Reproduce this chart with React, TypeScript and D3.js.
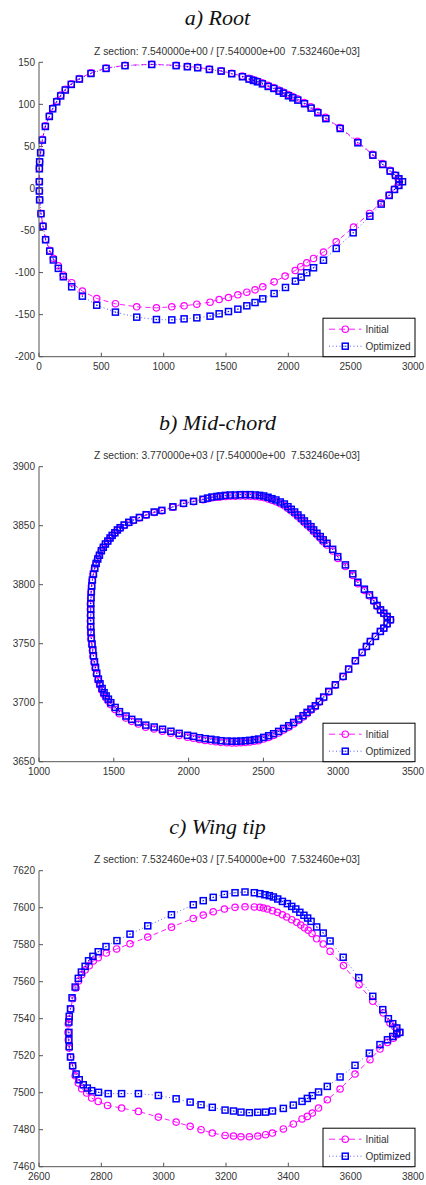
import * as d3 from "d3";

type Pt = [number, number];

// a) Root section, contour points (x, y)
const rootInitial: Pt[] = [
  [2890, 8], [2880, 12], [2855, 16], [2815, 21.5], [2755, 29.5], [2675, 40.5], [2555, 56], [2412, 72.5],
  [2298, 84.5], [2235, 91.5], [2180, 97], [2127, 102], [2073, 106.5], [2033, 109.3], [1998, 111.7],
  [1958, 114.6], [1922, 117], [1880, 120], [1835, 122.6], [1790, 125.6], [1750, 127.8], [1717, 129.4],
  [1682, 131], [1630, 133.6], [1545, 137], [1460, 140], [1366, 142], [1272, 144], [1190, 145.2],
  [1100, 146.4], [905, 147.6], [690, 146.3], [538, 143.2], [417, 137.4], [324, 130.8], [259, 124.5],
  [211, 118], [174, 111], [142, 104], [110, 95.5], [83, 86.5], [51, 74.5], [28, 58.5], [13, 43], [5, 32],
  [3, 24], [2, 8.5], [3, -3], [5, -13.5], [16, -30], [32, -44.5], [53, -60.5], [86, -73.5], [115, -83],
  [155, -92], [195, -103], [262, -112], [348, -122], [463, -130.8], [613, -137], [784, -140.7],
  [942, -141.9], [1065, -140.7], [1164, -139.5], [1266, -137.6], [1372, -135.2], [1445, -132],
  [1520, -129.6], [1595, -126.4], [1667, -123.3], [1733, -120.5], [1795, -116.9], [1886, -111],
  [1974, -104.2], [2055, -97.5], [2100, -93], [2148, -88.4], [2202, -83.2], [2282, -75.7], [2384, -63.4],
  [2523, -46], [2651, -29.7], [2743, -17], [2808, -7.5], [2850, -1], [2880, 3.5],
];
const rootOptimized: Pt[] = [
  [2916, 8], [2887, 11.5], [2860, 15.5], [2817, 20.6], [2758, 28.5], [2678, 39.6], [2558, 54.3], [2416, 71.3],
  [2301, 83], [2237, 90], [2183, 95.5], [2130, 100.7], [2076, 105], [2036, 107.8], [2001, 110.2],
  [1961, 113.3], [1926, 115.7], [1884, 118.9], [1838, 121.3], [1792, 124.4], [1752, 126.8], [1720, 128.4],
  [1685, 130], [1632, 132.8], [1546, 136.4], [1461, 139.5], [1367, 141.5], [1273, 143.5], [1190, 144.7],
  [1100, 146], [904, 147.4], [690, 146], [538, 142.7], [417, 136.7], [324, 130], [259, 123.7], [211, 117],
  [174, 110], [142, 103], [110, 94.7], [83, 85.6], [51, 73.7], [27, 57.5], [13, 42.4], [5, 31.7], [3, 23.4],
  [3, 8], [3, -3], [5, -13.5], [16, -30], [32, -45], [53, -61], [86, -74.5], [115, -85], [155, -95],
  [195, -105], [262, -116.9], [348, -128], [463, -138.8], [613, -147], [784, -153], [942, -155.8],
  [1065, -156.2], [1164, -155], [1266, -153.8], [1372, -151.8], [1445, -149], [1520, -146.3],
  [1595, -143.5], [1667, -139.5], [1733, -135.6], [1795, -131.2], [1886, -124.9], [1977, -117.7],
  [2057, -110.2], [2103, -105.4], [2148, -100.2], [2202, -94.3], [2282, -85.3], [2384, -71.3],
  [2520, -52.7], [2654, -33], [2745, -18.6], [2809, -8.3], [2852, -1.2], [2887, 3.6],
];

// b) Mid-chord section
const midInitial: Pt[] = [
  [3351, 3770.0], [3329, 3772.6], [3306, 3775.3], [3284, 3778.0], [3261, 3781.6], [3239, 3785.7],
  [3210, 3790.4], [3176, 3795.1], [3132, 3800.9], [3098, 3807.9], [3049, 3815.4], [2998, 3822.3],
  [2964, 3828.5], [2926, 3833.6], [2901, 3836.5], [2881, 3839.3], [2859, 3842.1], [2837, 3844.9],
  [2819, 3847.7], [2797, 3850.0], [2775, 3852.5], [2755, 3855.0], [2732, 3857.6], [2710, 3860.1],
  [2687, 3862.4], [2665, 3864.6], [2641, 3866.9], [2614, 3868.6], [2585, 3870.3], [2558, 3871.5],
  [2532, 3872.7], [2503, 3873.8], [2476, 3874.4], [2447, 3874.7], [2413, 3875.0], [2380, 3875.1],
  [2346, 3875.2], [2313, 3875.0], [2279, 3875.0], [2246, 3874.8], [2213, 3874.4], [2190, 3874.1],
  [2157, 3873.7], [2128, 3872.9], [2097, 3872.0], [2033, 3870.3], [1966, 3868.6], [1895, 3865.6],
  [1821, 3862.6], [1770, 3861.2], [1716, 3858.9], [1671, 3856.6], [1631, 3854.4], [1600, 3852.5],
  [1569, 3850.2], [1542, 3847.9], [1523, 3846.0], [1506, 3843.6], [1488, 3841.4], [1474, 3839.2],
  [1458, 3836.6], [1442, 3834.1], [1428, 3831.3], [1415, 3828.4], [1402, 3824.6], [1390, 3821.4],
  [1379, 3817.6], [1370, 3813.6], [1361, 3808.6], [1354, 3803.6], [1350, 3798.6], [1347, 3793.6],
  [1345, 3788.6], [1343, 3783.6], [1343, 3779.0], [1343, 3774.0], [1343, 3769.2], [1343, 3764.1],
  [1345, 3759.3], [1347, 3754.2], [1352, 3749.2], [1357, 3744.2], [1361, 3739.2], [1368, 3734.0],
  [1375, 3729.2], [1383, 3724.1], [1394, 3719.0], [1405, 3714.9], [1419, 3710.8], [1432, 3707.2],
  [1447, 3704.3], [1462, 3701.5], [1478, 3698.4], [1508, 3694.3], [1537, 3690.7], [1581, 3687.0],
  [1619, 3684.2], [1664, 3681.9], [1713, 3679.3], [1769, 3677.7], [1825, 3675.8], [1881, 3674.1],
  [1936, 3672.3], [1992, 3670.8], [2032, 3669.9], [2072, 3668.8], [2110, 3668.0], [2148, 3667.5],
  [2182, 3666.9], [2215, 3666.4], [2255, 3666.1], [2289, 3665.9], [2319, 3665.9], [2349, 3666.1],
  [2379, 3666.4], [2409, 3666.7], [2439, 3667.3], [2467, 3667.8], [2501, 3669.2], [2534, 3670.6],
  [2567, 3672.3], [2601, 3674.3], [2634, 3676.8], [2668, 3679.1], [2701, 3681.9], [2735, 3684.9],
  [2764, 3687.8], [2791, 3690.7], [2817, 3693.6], [2846, 3696.5], [2873, 3700.3], [2902, 3704.1],
  [2936, 3709.0], [2980, 3714.7], [3032, 3721.9], [3069, 3728.2], [3114, 3735.3], [3159, 3742.4],
  [3188, 3747.5], [3214, 3751.8], [3248, 3756.1], [3281, 3760.3], [3304, 3763.1], [3326, 3766.8],
];
const midOptimized: Pt[] = [
  [3349, 3770.3], [3327, 3773.1], [3305, 3775.9], [3283, 3778.7], [3260, 3782.4], [3238, 3786.6],
  [3209, 3791.4], [3175, 3796.2], [3131, 3802.1], [3097, 3809.2], [3048, 3816.8], [2997, 3823.8],
  [2963, 3830.0], [2925, 3835.1], [2900, 3838.0], [2880, 3840.8], [2858, 3843.6], [2836, 3846.4],
  [2818, 3849.2], [2796, 3851.5], [2774, 3854.0], [2754, 3856.5], [2731, 3859.1], [2709, 3861.6],
  [2686, 3863.9], [2664, 3866.1], [2640, 3868.4], [2613, 3870.1], [2584, 3871.8], [2557, 3872.9],
  [2531, 3874.1], [2502, 3875.2], [2475, 3875.7], [2446, 3876.0], [2412, 3876.3], [2379, 3876.3],
  [2345, 3876.3], [2312, 3876.0], [2278, 3876.0], [2245, 3875.7], [2212, 3875.2], [2189, 3874.8],
  [2156, 3874.3], [2127, 3873.4], [2096, 3872.4], [2033, 3870.7], [1966, 3869.0], [1895, 3866.0],
  [1821, 3863.0], [1770, 3861.6], [1716, 3859.3], [1671, 3857.0], [1631, 3854.8], [1600, 3852.9],
  [1569, 3850.6], [1542, 3848.3], [1524, 3846.4], [1507, 3844.0], [1489, 3841.8], [1475, 3839.6],
  [1460, 3837.0], [1444, 3834.5], [1430, 3831.7], [1417, 3828.8], [1404, 3825.0], [1393, 3821.8],
  [1382, 3818.0], [1373, 3814.0], [1364, 3809.0], [1357, 3804.0], [1353, 3799.0], [1350, 3794.0],
  [1348, 3789.0], [1346, 3784.0], [1346, 3779.4], [1346, 3774.3], [1346, 3769.5], [1346, 3764.4],
  [1348, 3759.7], [1350, 3754.6], [1355, 3749.7], [1360, 3744.7], [1364, 3739.8], [1371, 3734.7],
  [1378, 3730.0], [1386, 3725.0], [1397, 3720.0], [1408, 3716.0], [1422, 3712.0], [1435, 3708.5],
  [1449, 3705.7], [1464, 3703.0], [1480, 3700.0], [1509, 3696.0], [1538, 3692.4], [1582, 3688.7],
  [1620, 3685.9], [1665, 3683.6], [1714, 3681.0], [1770, 3679.4], [1826, 3677.5], [1882, 3675.8],
  [1937, 3674.0], [1993, 3672.4], [2033, 3671.5], [2073, 3670.3], [2111, 3669.5], [2149, 3669.0],
  [2183, 3668.4], [2216, 3667.8], [2256, 3667.5], [2290, 3667.3], [2320, 3667.3], [2350, 3667.5],
  [2380, 3667.8], [2410, 3668.1], [2440, 3668.7], [2468, 3669.2], [2502, 3670.6], [2535, 3672.0],
  [2568, 3673.7], [2602, 3675.7], [2635, 3678.2], [2669, 3680.5], [2702, 3683.3], [2736, 3686.2],
  [2765, 3689.0], [2792, 3691.8], [2818, 3694.6], [2847, 3697.4], [2874, 3701.1], [2903, 3704.8],
  [2937, 3709.6], [2981, 3715.2], [3033, 3722.3], [3070, 3728.5], [3115, 3735.6], [3160, 3742.6],
  [3189, 3747.7], [3215, 3751.9], [3249, 3756.2], [3282, 3760.4], [3305, 3763.2], [3327, 3766.9],
];

// c) Wing tip section
const tipInitial: Pt[] = [
  [3757, 7532.6], [3742, 7535.5], [3726, 7537.7], [3705, 7543.1], [3671, 7549.4], [3627, 7558.4],
  [3577, 7568.7], [3534, 7576.4], [3512, 7580.4], [3491, 7583.2], [3476, 7586], [3464, 7587.8],
  [3452, 7589.2], [3440, 7590.6], [3427, 7592.1], [3411, 7593.5], [3395, 7595], [3381, 7596.2],
  [3365, 7597.5], [3349, 7598.4], [3333, 7599.3], [3320, 7599.8], [3309, 7600.2], [3291, 7600.4],
  [3261, 7600.5], [3229, 7600.2], [3195, 7599.3], [3159, 7597.8], [3127, 7596], [3095, 7594.2],
  [3025, 7589.5], [2949, 7584.1], [2892, 7580.5], [2849, 7577.7], [2816, 7575.5], [2790, 7573],
  [2774, 7571.2], [2761, 7568.6], [2748, 7566.3], [2737, 7563.8], [2727, 7560.4], [2719, 7556.6],
  [2708, 7550.8], [2702, 7545.2], [2697, 7539.8], [2694, 7537.3], [2693, 7532.6], [2694, 7528.6],
  [2697, 7524.1], [2702, 7519.3], [2708, 7514.2], [2716, 7509.2], [2726, 7505.2], [2737, 7502.2],
  [2753, 7499.8], [2769, 7497.1], [2790, 7495.3], [2820, 7493.1], [2865, 7491.7], [2919, 7489.9],
  [2983, 7486.8], [3040, 7484.1], [3085, 7481.8], [3120, 7480], [3156, 7478.2], [3197, 7476.9],
  [3224, 7476.6], [3248, 7476.2], [3275, 7476.2], [3302, 7476.6], [3327, 7477.3], [3349, 7478.2],
  [3384, 7480.4], [3416, 7483.1], [3444, 7485.8], [3461, 7487.2], [3477, 7489], [3497, 7491.7],
  [3525, 7496.2], [3566, 7502], [3614, 7510.1], [3662, 7517.8], [3694, 7523.6], [3718, 7527.2],
  [3737, 7529.5], [3748, 7531.3],
];
const tipOptimized: Pt[] = [
  [3758, 7532.6], [3748, 7535], [3735, 7537.3], [3721, 7540], [3703, 7544.9], [3671, 7552.1],
  [3626, 7562.2], [3576, 7573.2], [3534, 7582], [3512, 7586.3], [3491, 7589.6], [3473, 7592.6],
  [3462, 7594.4], [3450, 7595.9], [3437, 7597.5], [3424, 7599.3], [3411, 7600.7], [3397, 7602.2],
  [3381, 7603.4], [3366, 7604.7], [3352, 7605.8], [3339, 7606.5], [3325, 7607], [3309, 7607.6],
  [3291, 7608.1], [3261, 7608.5], [3229, 7608.1], [3195, 7607.2], [3159, 7605.6], [3127, 7603.8],
  [3095, 7601.6], [3025, 7596.2], [2949, 7590.2], [2892, 7585.7], [2850, 7582.2], [2815, 7579],
  [2790, 7576.2], [2773, 7573.7], [2759, 7571.3], [2748, 7568.3], [2736, 7565.2], [2726, 7561.8],
  [2716, 7557.1], [2706, 7551.3], [2701, 7545.3], [2697, 7541.3], [2696, 7538.2], [2696, 7532.6],
  [2696, 7528.6], [2697, 7524.9], [2701, 7519.3], [2708, 7514.6], [2719, 7510.1], [2729, 7507],
  [2742, 7504.3], [2755, 7502.5], [2769, 7501.1], [2791, 7500.2], [2822, 7499.5], [2865, 7499.5],
  [2919, 7499.5], [2983, 7498.5], [3040, 7496.7], [3085, 7494.9], [3120, 7493.5], [3156, 7492.1],
  [3197, 7490.6], [3224, 7490.1], [3248, 7489.5], [3275, 7489.2], [3302, 7489.4], [3327, 7489.5],
  [3349, 7490.1], [3384, 7491.5], [3416, 7493.3], [3444, 7495.3], [3461, 7496.9], [3477, 7498.4],
  [3497, 7500.4], [3525, 7503.4], [3566, 7508.5], [3614, 7514.8], [3660, 7521.4], [3694, 7526],
  [3718, 7528.6], [3735, 7530.4], [3748, 7531.9],
];

const rootXTicks = [0, 500, 1000, 1500, 2000, 2500, 3000];
const rootYTicks = [-200, -150, -100, -50, 0, 50, 100, 150];
const midXTicks = [1000, 1500, 2000, 2500, 3000, 3500];
const midYTicks = [3650, 3700, 3750, 3800, 3850, 3900];
const tipXTicks = [2600, 2800, 3000, 3200, 3400, 3600, 3800];
const tipYTicks = [7460, 7480, 7500, 7520, 7540, 7560, 7580, 7600, 7620];

const titles = ["a) Root", "b) Mid-chord", "c) Wing tip"];
const subtitles = [
  "Z section: 7.540000e+00 / [7.540000e+00  7.532460e+03]",
  "Z section: 3.770000e+03 / [7.540000e+00  7.532460e+03]",
  "Z section: 7.532460e+03 / [7.540000e+00  7.532460e+03]",
];
const seriesNames = ["Initial", "Optimized"];

const LEFT = 39;
const RIGHT = 413;
const SANS = "'Liberation Sans', Arial, sans-serif";
const SERIF = "'Liberation Serif', 'Times New Roman', serif";
const MAGENTA = "#ff00ff";
const BLUE = "#0000ff";
const AXIS = "#555";
const TEXT = "#333";

type PanelDef = {
  title: string;
  subtitle: string;
  titleY: number;
  subY: number;
  top: number;
  bottom: number;
  xTicks: number[];
  yTicks: number[];
  initial: Pt[];
  optimized: Pt[];
};

const panels: PanelDef[] = [
  { title: titles[0], subtitle: subtitles[0], titleY: 25, subY: 54.5, top: 62.3, bottom: 356.7,
    xTicks: rootXTicks, yTicks: rootYTicks, initial: rootInitial, optimized: rootOptimized },
  { title: titles[1], subtitle: subtitles[1], titleY: 430, subY: 458.5, top: 466.7, bottom: 761.7,
    xTicks: midXTicks, yTicks: midYTicks, initial: midInitial, optimized: midOptimized },
  { title: titles[2], subtitle: subtitles[2], titleY: 834, subY: 862.5, top: 870.7, bottom: 1166.7,
    xTicks: tipXTicks, yTicks: tipYTicks, initial: tipInitial, optimized: tipOptimized },
];

function Square({ cx, cy }: { cx: number; cy: number }) {
  return (
    <g>
      <rect x={cx - 3} y={cy - 3} width={6} height={6} fill="none" stroke={BLUE} strokeWidth={1.5} />
      <rect x={cx - 0.6} y={cy - 0.6} width={1.2} height={1.2} fill={BLUE} />
    </g>
  );
}

function Panel({ p }: { p: PanelDef }) {
  const x = d3.scaleLinear().domain(d3.extent(p.xTicks) as [number, number]).range([LEFT, RIGHT]);
  const y = d3.scaleLinear().domain(d3.extent(p.yTicks) as [number, number]).range([p.bottom, p.top]);
  const line = d3.line<Pt>().x((d) => x(d[0])).y((d) => y(d[1]));

  const legW = 92;
  const legH = 38.5;
  const legX = 415 - legW;
  const legY = p.bottom - legH;
  const row1 = legY + 11;
  const row2 = legY + 28;
  const sx0 = legX + 6;
  const sx1 = legX + 38.5;
  const sxm = (sx0 + sx1) / 2;

  return (
    <g>
      <text x={217.5} y={p.titleY} textAnchor="middle" fontFamily={SERIF} fontStyle="italic" fontSize={22} fill="#111">
        {p.title}
      </text>
      <text x={(LEFT + RIGHT) / 2 + 1} y={p.subY} textAnchor="middle" fontFamily={SANS} fontSize={10.3} fill={TEXT}
        style={{ whiteSpace: "pre" }}>
        {p.subtitle}
      </text>

      {/* data */}
      <path d={line(p.initial) ?? ""} fill="none" stroke={MAGENTA} strokeWidth={0.9} strokeDasharray="5,3.5" />
      {p.initial.map((d, i) => (
        <circle key={`i${i}`} cx={x(d[0])} cy={y(d[1])} r={3.2} fill="none" stroke={MAGENTA} strokeWidth={1.2} />
      ))}
      <path d={line(p.optimized) ?? ""} fill="none" stroke={BLUE} strokeOpacity={0.7} strokeWidth={0.9} strokeDasharray="1,2.5" />
      {p.optimized.map((d, i) => (
        <Square key={`o${i}`} cx={x(d[0])} cy={y(d[1])} />
      ))}

      {/* axes */}
      <line x1={LEFT} x2={LEFT} y1={p.top} y2={p.bottom} stroke={AXIS} strokeWidth={1} />
      <line x1={LEFT} x2={RIGHT} y1={p.bottom} y2={p.bottom} stroke={AXIS} strokeWidth={1} />
      {p.yTicks.map((t) => (
        <g key={`y${t}`}>
          <line x1={LEFT} x2={LEFT + 4} y1={y(t)} y2={y(t)} stroke={AXIS} strokeWidth={1} />
          <text x={LEFT - 4} y={y(t)} dy="0.35em" textAnchor="end" fontFamily={SANS} fontSize={10} fill={TEXT}>
            {t}
          </text>
        </g>
      ))}
      {p.xTicks.map((t) => (
        <g key={`x${t}`}>
          <line x1={x(t)} x2={x(t)} y1={p.bottom} y2={p.bottom - 4} stroke={AXIS} strokeWidth={1} />
          <text x={x(t)} y={p.bottom + 13.5} textAnchor="middle" fontFamily={SANS} fontSize={10} fill={TEXT}>
            {t}
          </text>
        </g>
      ))}

      {/* legend */}
      <rect x={legX} y={legY} width={legW} height={legH} fill="#fff" stroke="#000" strokeWidth={1} />
      <line x1={sx0} x2={sx1} y1={row1} y2={row1} stroke={MAGENTA} strokeWidth={0.9} strokeDasharray="6,4" />
      <circle cx={sxm} cy={row1} r={3.2} fill="none" stroke={MAGENTA} strokeWidth={1.2} />
      <text x={legX + 42.5} y={row1} dy="0.35em" fontFamily={SANS} fontSize={10} fill={TEXT}>
        {seriesNames[0]}
      </text>
      <line x1={sx0} x2={sx1} y1={row2} y2={row2} stroke={BLUE} strokeOpacity={0.7} strokeWidth={0.9} strokeDasharray="1,2.5" />
      <Square cx={sxm} cy={row2} />
      <text x={legX + 42.5} y={row2} dy="0.35em" fontFamily={SANS} fontSize={10} fill={TEXT}>
        {seriesNames[1]}
      </text>
    </g>
  );
}

export default function App() {
  return (
    <svg
      width={426}
      height={1185}
      viewBox="0 0 426 1185"
      style={{ position: "absolute", left: 0, top: 0, background: "#fff" }}
    >
      {panels.map((p) => (
        <Panel key={p.title} p={p} />
      ))}
    </svg>
  );
}
